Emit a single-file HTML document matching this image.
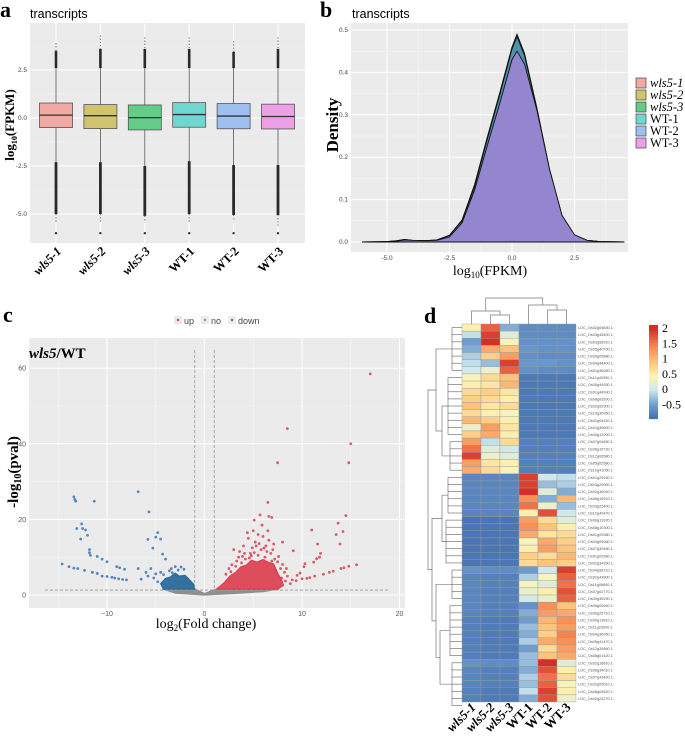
<!DOCTYPE html>
<html><head><meta charset="utf-8"><style>
body{margin:0;background:#fff}
svg{display:block}
text{font-family:"Liberation Sans",sans-serif}
.serif{font-family:"Liberation Serif",serif}
</style></head><body>
<svg id="fig" width="685" height="736" viewBox="0 0 685 736" xmlns="http://www.w3.org/2000/svg"></svg>
<script>
// ---------- DATA ----------
// panel a: boxplots
const boxSamples=["wls5-1","wls5-2","wls5-3","WT-1","WT-2","WT-3"];
const boxMedian=[0.15,0.12,0.02,0.18,0.1,0.08];
const boxQ1=[-0.5,-0.55,-0.62,-0.48,-0.56,-0.57];
const boxQ3=[0.78,0.7,0.68,0.8,0.75,0.72];
const boxWhiskerHigh=[2.6,2.6,2.6,2.6,2.6,2.6];
const boxWhiskerLow=[-2.3,-2.3,-2.5,-2.25,-2.45,-2.45];
const boxDenseHigh=[3.5,3.6,3.6,3.6,3.45,3.6];
const boxMaxOutlier=[3.9,4.3,4.2,4.2,4.0,4.2];
const boxDenseLow=[-5.0,-5.0,-5.1,-5.0,-5.05,-5.05];
const boxSparseLow=[-5.5,-5.5,-5.45,-5.4,-5.4,-5.6];
const boxMinOutlier=[-6.0,-6.0,-6.0,-6.0,-6.0,-6.0];
const boxColors=["#f2a9a3","#d2c46e","#63cc86","#6ed8d0","#9fbff0","#eea0e6"];
const boxYTicks=[2.5,0,-2.5,-5];
const boxYTickLabels=["2.5","0.0","-2.5","-5.0"];
// panel b: density
const densX=[-6,-5,-4.6,-4.3,-4,-3.5,-3,-2.5,-2,-1.5,-1,-0.5,0,0.2,0.5,1,1.5,2,2.5,3,3.5,4.5];
const densGreen=[0,0.001,0.003,0.006,0.004,0.003,0.005,0.016,0.052,0.135,0.245,0.35,0.46,0.49,0.445,0.315,0.172,0.062,0.016,0.004,0.001,0];
const densBlue=[0,0.001,0.003,0.006,0.004,0.003,0.005,0.015,0.05,0.13,0.24,0.345,0.455,0.485,0.44,0.312,0.17,0.061,0.016,0.004,0.001,0];
const densPurple=[0,0.001,0.002,0.005,0.004,0.003,0.004,0.012,0.045,0.122,0.225,0.325,0.43,0.45,0.42,0.31,0.172,0.063,0.017,0.004,0.001,0];
const densXTicks=[-5,-2.5,0,2.5];
const densXTickLabels=["-5.0","-2.5","0.0","2.5"];
const densYTicks=[0,0.1,0.2,0.3,0.4,0.5];
const densYTickLabels=["0.0","0.1","0.2","0.3","0.4","0.5"];
const legendLabels=["wls5-1","wls5-2","wls5-3","WT-1","WT-2","WT-3"];
// panel c: volcano
const upPoints=[[17,58.5],[8.5,44],[15,40],[7.5,35],[14.8,35],[6.5,24.5],[14.5,21],[5.7,21.2],[6.6,20.8],[6.9,20.5],[5.1,19.8],[13.7,19],[11,17.2],[14.2,16.8],[13.5,16],[8,14],[13.9,13.5],[11.6,13.5],[9.1,11.7],[11.9,11],[11.8,10],[11.5,9.6],[11.2,8.7],[10.3,8.3],[10.2,7.5],[9.8,5.8],[9.5,5.2],[10,4.3],[10.5,4.4],[9.4,3.8],[10.8,4.6],[11.3,5],[12.2,5.5],[12.8,6],[13.2,6.3],[14,7],[14.3,7.2],[14.8,7.6],[15.6,8],[9,4],[8.3,3.7],[3,12],[4,13],[4.5,15],[5,17],[5.5,16],[6,15.5],[6.3,13],[5.8,12],[4.7,11],[3.5,10],[6.8,11],[7.2,9.5],[7.8,7],[8.2,6],[5.2,14],[4.2,9.5],[6.5,17],[5.9,18.5],[4.9,12.5],[3.8,8.5],[2.5,7],[5.5,10.5],[6.2,10],[7,12],[7.5,8.8],[4.4,16.5],[3.3,9],[2.8,8],[7.9,4.5],[8.5,5],[6.6,14.5],[5.3,13],[4.1,11],[7.3,6.5],[3.6,11.5],[6.9,9],[8.8,3],[2.2,5.5],[3.2,7.6],[4.6,9.8],[5.1,11.2],[6.4,11.5],[7.6,10.2],[8,8.1],[8.4,7],[7.1,13.5],[4.8,10.4],[3.9,10.2],[2.7,6.2],[6.1,12.4],[5.6,13.6]];
const upCore=[[1.2,1.5],[2,3.2],[2.6,5],[3.2,6],[3.7,7.4],[4.3,7.9],[4.8,9.2],[5.4,8.7],[6,9.4],[6.6,8.6],[7.1,8.2],[7.5,5.8],[7.9,4],[8.1,2.6],[7.5,1.5]];
const downPoints=[[-13.4,26],[-13.3,25.3],[-13.2,24.8],[-11.3,24.8],[-6.8,27.3],[-5.7,22],[-12.6,18.8],[-12.5,17.6],[-13.1,17.6],[-12.2,17.2],[-12,15.8],[-12.7,14.8],[-4.8,16.5],[-5,15.3],[-4.5,14.8],[-5.8,14.7],[-5.3,12.4],[-11.8,12],[-11.8,11.2],[-11.7,10.5],[-11,10.2],[-10.5,9.5],[-10,8.8],[-9,7.5],[-8.7,7.2],[-8.2,6.8],[-14.6,8.2],[-13.9,7.5],[-13.4,7.1],[-13,7],[-12.3,6.5],[-11.5,6],[-11,5.7],[-10.5,5],[-10,4.9],[-9.5,4.7],[-9.2,4.5],[-8.8,4.3],[-8.4,4.1],[-8,4],[-4.3,10.8],[-4,9.5],[-6.8,7],[-6,6],[-5.5,7],[-4.5,6],[-3,7.5],[-2.4,7.4],[-3.4,7],[-2.1,6.8],[-5.8,5],[-6.5,4.2],[-5.2,4.5],[-4.8,3.5],[-3.9,3.2],[-3.6,6.4],[-2.7,6.6],[-4.2,5.4],[-5,5.6],[-3.3,5.9]];
const downCore=[[-1,1.5],[-1.1,2.8],[-1.6,4.2],[-2,5.2],[-2.6,5],[-3,5.8],[-3.5,4.8],[-4,4.4],[-4.5,3],[-4.2,1.5]];
const noCore=[[-4.3,1.6],[-1,1.6],[0,0.4],[1.2,1.6],[7.6,1.6],[6,0.9],[3,0.4],[0,0],[-3,0.5]];
const volcXTicks=[-10,0,10,20];
const volcXTickLabels=["\u221210","0","10","20"];
const volcYTicks=[0,20,40,60];
const volcYTickLabels=["0","20","40","60"];
// panel d: heatmap
const heatCols=["wls5-1","wls5-2","wls5-3","WT-1","WT-2","WT-3"];
const heatRows=[
[0.6,1.7,-0.2,-0.45,-0.45,-0.45],[0.1,1.9,0.3,-0.45,-0.45,-0.45],[-0.3,2.0,0.5,-0.4,-0.4,-0.4],[-0.2,1.2,1.0,-0.35,-0.4,-0.4],[0.0,0.9,1.3,-0.4,-0.45,-0.45],[0.1,-0.1,1.9,-0.35,-0.35,-0.4],[0.2,0.4,1.7,-0.4,-0.45,-0.45],
[0.5,0.8,1.0,-0.62,-0.62,-0.62],[0.6,0.7,1.1,-0.62,-0.62,-0.62],[0.8,0.9,0.7,-0.62,-0.62,-0.62],[0.9,0.8,0.6,-0.62,-0.62,-0.62],[1.0,0.7,0.8,-0.62,-0.62,-0.62],[0.8,0.6,0.5,-0.62,-0.62,-0.62],[1.1,0.9,0.6,-0.62,-0.62,-0.62],[0.4,1.3,0.7,-0.62,-0.62,-0.62],[0.9,1.2,0.6,-0.62,-0.62,-0.62],[1.3,0.1,0.8,-0.55,-0.55,-0.55],[1.6,0.3,0.2,-0.55,-0.55,-0.55],[1.9,0.4,0.3,-0.55,-0.55,-0.55],[1.3,0.7,0.6,-0.55,-0.55,-0.55],[1.2,0.8,0.5,-0.55,-0.55,-0.55],
[-0.5,-0.5,-0.5,1.9,0.2,0.1],[-0.5,-0.5,-0.5,1.9,-0.1,0.0],[-0.5,-0.5,-0.5,2.0,0.3,-0.2],[-0.5,-0.5,-0.5,1.4,-0.2,1.1],[-0.5,-0.5,-0.5,1.6,0.4,-0.1],[-0.5,-0.5,-0.5,0.6,1.8,0.2],[-0.65,-0.65,-0.65,1.3,0.8,0.3],[-0.65,-0.65,-0.65,1.4,1.0,0.6],[-0.65,-0.65,-0.65,1.2,0.7,0.8],[-0.65,-0.65,-0.65,0.5,1.2,0.9],[-0.65,-0.65,-0.65,0.6,1.3,1.0],[-0.65,-0.65,-0.65,0.9,0.8,1.1],[-0.65,-0.65,-0.65,0.8,1.0,0.9],
[-0.4,-0.45,-0.45,-0.3,0.2,1.9],[-0.5,-0.55,-0.55,0.0,0.5,1.7],[-0.5,-0.55,-0.55,0.5,0.3,1.6],[-0.5,-0.55,-0.55,0.4,0.6,1.8],[-0.5,-0.55,-0.55,0.2,0.4,1.7],
[-0.5,-0.55,-0.55,-0.4,1.4,1.0],[-0.5,-0.55,-0.55,-0.2,1.3,1.2],[-0.55,-0.6,-0.6,-0.3,1.1,1.4],[-0.55,-0.6,-0.6,-0.1,1.0,1.3],[-0.55,-0.6,-0.6,-0.2,0.9,1.5],[-0.55,-0.6,-0.6,0.0,1.2,1.4],[-0.55,-0.6,-0.6,-0.3,0.8,1.3],[-0.55,-0.6,-0.6,-0.1,1.0,1.2],
[-0.4,-0.45,-0.45,-0.1,2.0,0.3],[-0.5,-0.55,-0.55,-0.2,1.8,0.6],[-0.5,-0.55,-0.55,0.0,1.6,0.8],[-0.5,-0.55,-0.55,-0.1,1.7,0.5],[-0.55,-0.6,-0.6,0.1,1.9,0.6],[-0.55,-0.6,-0.6,-0.2,1.8,0.4]];
const heatRowLabels=["LOC_Os02g05830.1","LOC_Os03g45400.1","LOC_Os03g58910.1","LOC_Os05g40700.1","LOC_Os06g05880.1","LOC_Os04g44400.1","LOC_Os01g35050.1","LOC_Os11g40390.1","LOC_Os05g44930.1","LOC_Os01g44930.1","LOC_Os08g03200.1","LOC_Os02g52900.1","LOC_Os10g30950.1","LOC_Os02g04420.1","LOC_Os01g35600.1","LOC_Os03g12200.1","LOC_Os07g04650.1","LOC_Os06g15720.1","LOC_Os12g06580.1","LOC_Os05g02580.1","LOC_Os10g41050.1","LOC_Os01g29150.1","LOC_Os03g20000.1","LOC_Os02g16040.1","LOC_Os05g15910.1","LOC_Os03g22400.1","LOC_Os12g40470.1","LOC_Os06g13920.1","LOC_Os08g10300.1","LOC_Os01g09380.1","LOC_Os03g05060.1","LOC_Os07g30480.1","LOC_Os01g02580.1","LOC_Os02g34350.1","LOC_Os04g58710.1","LOC_Os02g43900.1","LOC_Os11g06840.1","LOC_Os07g02770.1","LOC_Os09g35290.1","LOC_Os05g05940.1","LOC_Os06g25710.1","LOC_Os09g13810.1","LOC_Os11g23000.1","LOC_Os04g36950.1","LOC_Os05g41470.1","LOC_Os12g39860.1","LOC_Os08g01420.1","LOC_Os02g16810.1","LOC_Os06g34010.1","LOC_Os07g43400.1","LOC_Os02g05010.1","LOC_Os08g04520.1","LOC_Os02g24270.1","LOC_Os01g07890.1"];
const colorbarTicks=[2,1.5,1,0.5,0,-0.5];

// ---------- HELPERS ----------
const NS="http://www.w3.org/2000/svg";
const svg=document.getElementById('fig');
function el(tag,attrs,parent,txt){const e=document.createElementNS(NS,tag);for(const k in attrs)e.setAttribute(k,attrs[k]);if(txt!==undefined)e.textContent=txt;(parent||svg).appendChild(e);return e;}
function grp(name){const g=el('g',{});return g;}

// ---------- PANEL A ----------
(function(){
const g=grp('panel-a-boxplot');
const yA=v=>118-19.2*v, xA=i=>56+44.4*i;
let t=el('text',{x:0,y:17,'font-size':22,'font-weight':'bold',class:'serif'},g,'a');

t=el('text',{x:30,y:18,'font-size':12.5},g,'transcripts');

const bg=el('rect',{x:30,y:23,width:275,height:220,fill:'#ebebeb'},g);

[3.75,1.25,-1.25,-3.75].forEach(v=>el('line',{x1:30,x2:305,y1:yA(v),y2:yA(v),stroke:'#f4f4f4','stroke-width':0.6},g));
boxYTicks.forEach((v,i)=>{el('line',{x1:30,x2:305,y1:yA(v),y2:yA(v),stroke:'#fff','stroke-width':1},g);
 const l=el('text',{x:27,y:yA(v)+2,'font-size':6.5,fill:'#444','text-anchor':'end'},g,boxYTickLabels[i]);
 });
boxSamples.forEach((s,i)=>{const x=xA(i);el('line',{x1:x,x2:x,y1:23,y2:243,stroke:'#fff','stroke-width':1},g);});
boxSamples.forEach((s,i)=>{
 const x=xA(i);const bgp=el('g',{},g);
 
 el('line',{x1:x,x2:x,y1:yA(boxWhiskerHigh[i]),y2:yA(boxQ3[i]),stroke:'#555','stroke-width':0.8},bgp);
 el('line',{x1:x,x2:x,y1:yA(boxQ1[i]),y2:yA(boxWhiskerLow[i]),stroke:'#555','stroke-width':0.8},bgp);
 el('line',{x1:x,x2:x,y1:yA(boxDenseHigh[i]),y2:yA(boxWhiskerHigh[i]),stroke:'#2b2b2b','stroke-width':2.6},bgp);
 el('line',{x1:x,x2:x,y1:yA(boxMaxOutlier[i]),y2:yA(boxDenseHigh[i]),stroke:'#777','stroke-width':1.2,'stroke-dasharray':'1.2 2'},bgp);
 el('line',{x1:x,x2:x,y1:yA(boxWhiskerLow[i]),y2:yA(boxDenseLow[i]),stroke:'#2b2b2b','stroke-width':2.8},bgp);
 el('line',{x1:x,x2:x,y1:yA(boxDenseLow[i]),y2:yA(boxSparseLow[i]),stroke:'#777','stroke-width':1.2,'stroke-dasharray':'1.2 2'},bgp);
 el('circle',{cx:x,cy:yA(boxMinOutlier[i]),r:1.2,fill:'#333'},bgp);
 el('rect',{x:x-16.5,y:yA(boxQ3[i]),width:33,height:yA(boxQ1[i])-yA(boxQ3[i]),fill:boxColors[i],stroke:'#555','stroke-width':0.8},bgp);
 el('line',{x1:x-16.5,x2:x+16.5,y1:yA(boxMedian[i]),y2:yA(boxMedian[i]),stroke:'#333','stroke-width':1.3},bgp);
 const lab=el('text',{x:x+6,y:252,'font-size':12.5,'font-weight':'bold','font-style':s.startsWith('wls')?'italic':'normal',class:'serif','text-anchor':'end',transform:`rotate(-45 ${x+6} 252)`},g,s);
 
});
t=el('text',{x:0,y:0,'font-size':13,'font-weight':'bold',class:'serif','text-anchor':'middle',transform:'translate(14 125) rotate(-90)'},g);
t.innerHTML='log<tspan font-size="8" dy="3">10</tspan><tspan dy="-3">(FPKM)</tspan>';

})();

// ---------- PANEL B ----------
(function(){
const g=grp('panel-b-density');
const xB=v=>512+25*v, yB=v=>242-424*v;
let t=el('text',{x:320,y:17,'font-size':22,'font-weight':'bold',class:'serif'},g,'b');

t=el('text',{x:352,y:18,'font-size':12.5},g,'transcripts');

const bg=el('rect',{x:351,y:23,width:277,height:229,fill:'#ebebeb'},g);

[0.05,0.15,0.25,0.35,0.45].forEach(v=>el('line',{x1:351,x2:628,y1:yB(v),y2:yB(v),stroke:'#f4f4f4','stroke-width':0.6},g));
[-3.75,-1.25,1.25,3.75].forEach(v=>el('line',{x1:xB(v),x2:xB(v),y1:23,y2:252,stroke:'#f4f4f4','stroke-width':0.6},g));
densYTicks.forEach((v,i)=>{el('line',{x1:351,x2:628,y1:yB(v),y2:yB(v),stroke:'#fff','stroke-width':1},g);
 const l=el('text',{x:348,y:yB(v)+2,'font-size':6.5,fill:'#444','text-anchor':'end'},g,densYTickLabels[i]);
 });
densXTicks.forEach((v,i)=>{el('line',{x1:xB(v),x2:xB(v),y1:23,y2:252,stroke:'#fff','stroke-width':1},g);
 const l=el('text',{x:xB(v),y:260,'font-size':6.5,fill:'#444','text-anchor':'middle'},g,densXTickLabels[i]);
 });
function area(vals,fill,name){
 let d='M'+xB(densX[0])+','+yB(0);
 densX.forEach((x,i)=>d+=' L'+xB(x).toFixed(1)+','+yB(vals[i]).toFixed(1));
 d+=' L'+xB(densX[densX.length-1])+','+yB(0)+'Z';
 const p=el('path',{d,fill,stroke:'#111','stroke-width':0.9,'fill-opacity':0.9},g);
 }
area(densGreen,'#3f9f6a','density-wls5-3');
area(densBlue,'#4f8fb0','density-wt-2');
area(densPurple,'#9a84d2','density-wt-3');
t=el('text',{x:0,y:0,'font-size':17,'font-weight':'bold',class:'serif','text-anchor':'middle',transform:'translate(338 125) rotate(-90)'},g,'Density');

t=el('text',{x:490,y:275,'font-size':14,class:'serif','text-anchor':'middle'},g);
t.innerHTML='log<tspan font-size="9" dy="3">10</tspan><tspan dy="-3">(FPKM)</tspan>';

legendLabels.forEach((s,i)=>{const lg=el('g',{},g);
 
 const y=78+12*i;
 el('rect',{x:636,y:y,width:10,height:10,fill:boxColors[i],stroke:'#444','stroke-width':0.7},lg);
 el('text',{x:650,y:y+9,'font-size':12.5,class:'serif','font-style':s.startsWith('wls')?'italic':'normal'},lg,s);});
})();

// ---------- PANEL C ----------
(function(){
const g=grp('panel-c-volcano');
const xC=v=>204.5+9.75*v, yC=v=>595-3.78*v;
let t=el('text',{x:3,y:322,'font-size':22,'font-weight':'bold',class:'serif'},g,'c');

const bg=el('rect',{x:29,y:338,width:376,height:270,fill:'#ebebeb'},g);

[10,30,50].forEach(v=>el('line',{x1:29,x2:405,y1:yC(v),y2:yC(v),stroke:'#f4f4f4','stroke-width':0.6},g));
[-15,-5,5,15].forEach(v=>el('line',{x1:xC(v),x2:xC(v),y1:338,y2:608,stroke:'#f6f6f6','stroke-width':0.8},g));
volcYTicks.forEach((v,i)=>{el('line',{x1:29,x2:405,y1:yC(v),y2:yC(v),stroke:'#fff','stroke-width':1},g);
 const l=el('text',{x:26,y:yC(v)+2.5,'font-size':7,fill:'#555','text-anchor':'end'},g,volcYTickLabels[i]);
 });
volcXTicks.forEach((v,i)=>{el('line',{x1:xC(v),x2:xC(v),y1:338,y2:608,stroke:'#fff','stroke-width':1},g);
 const l=el('text',{x:xC(v),y:616,'font-size':7,fill:'#555','text-anchor':'middle'},g,volcXTickLabels[i]);
 });
function poly(pts,fill,name,op){const p=el('polygon',{points:pts.map(p=>xC(p[0]).toFixed(1)+','+yC(p[1]).toFixed(1)).join(' '),fill,'fill-opacity':op,stroke:fill,'stroke-opacity':op,'stroke-width':1.2,'stroke-linejoin':'round'},g);
 }
poly(noCore,'#8f8f8f','no-change-cloud',1);
poly(upCore,'#dc3c4c','up-dense-cloud',0.9);
poly(downCore,'#2b6a9a','down-dense-cloud',0.95);
upPoints.forEach(p=>{const c=el('circle',{cx:xC(p[0]),cy:yC(p[1]),r:1.4,fill:'#de3d4e','fill-opacity':0.85},g);
 });
downPoints.forEach(p=>{const c=el('circle',{cx:xC(p[0]),cy:yC(p[1]),r:1.4,fill:'#3a76b6','fill-opacity':0.85},g);
 });
[-1,1].forEach(v=>{const l=el('line',{x1:xC(v),x2:xC(v),y1:350,y2:595,stroke:'#999','stroke-width':0.8,'stroke-dasharray':'3 2'},g);
 });
const hl=el('line',{x1:45,x2:388,y1:yC(1.3),y2:yC(1.3),stroke:'#999','stroke-width':0.8,'stroke-dasharray':'3 2'},g);

t=el('text',{x:29,y:358,'font-size':15,'font-weight':'bold',class:'serif'},g);
t.innerHTML='<tspan font-style="italic">wls5</tspan>/WT';

t=el('text',{x:0,y:0,'font-size':15,'font-weight':'bold',class:'serif','text-anchor':'middle',transform:'translate(18 472) rotate(-90)'},g);
t.innerHTML='-log<tspan font-size="10" dy="3">10</tspan><tspan dy="-3">(pval)</tspan>';

t=el('text',{x:206,y:628,'font-size':14,class:'serif','text-anchor':'middle'},g);
t.innerHTML='log<tspan font-size="9" dy="3">2</tspan><tspan dy="-3">(Fold change)</tspan>';

[['up','#de3d4e',174],['no','#8f8f8f',201],['down','#3a76b6',228]].forEach(e=>{const lg=el('g',{},g);
 
 el('rect',{x:e[2],y:316,width:8,height:8,fill:'#ebebeb'},lg);
 el('circle',{cx:e[2]+4,cy:320,r:1.2,fill:e[1]},lg);
 el('text',{x:e[2]+10,y:324,'font-size':9,fill:'#444'},lg,e[0]);});
})();

// ---------- PANEL D ----------
(function(){
const g=grp('panel-d-heatmap');
let t=el('text',{x:424,y:323,'font-size':22,'font-weight':'bold',class:'serif'},g,'d');

const x0=462,cw=19,y0=324,rh=378/heatRows.length;
const stops=[[-0.7,[69,112,176]],[-0.3,[110,156,205]],[0.15,[205,231,240]],[0.55,[253,245,180]],[1.0,[253,196,125]],[1.5,[244,132,82]],[2.0,[214,46,38]]];
function col(v){if(v<=stops[0][0])return 'rgb('+stops[0][1]+')';
 for(let i=1;i<stops.length;i++){if(v<=stops[i][0]){const a=stops[i-1],b=stops[i],f=(v-a[0])/(b[0]-a[0]);
  return 'rgb('+a[1].map((c,k)=>Math.round(c+(b[1][k]-c)*f)).join(',')+')';}}
 return 'rgb('+stops[stops.length-1][1]+')';}
heatRows.forEach((row,r)=>{row.forEach((v,c)=>{const cell=el('rect',{x:x0+c*cw,y:y0+r*rh,width:cw,height:rh,fill:col(v),stroke:'#9a9a9a','stroke-width':0.4},g);
 });
 const lb=el('text',{x:578,y:y0+r*rh+rh/2+1.5,'font-size':3.8,fill:'#555'},g,heatRowLabels[r]);
 });
heatCols.forEach((s,c)=>{const x=x0+c*cw+cw/2+5;
 const lab=el('text',{x:x,y:708,'font-size':13,'font-weight':'bold','font-style':s.startsWith('wls')?'italic':'normal',class:'serif','text-anchor':'end',transform:`rotate(-45 ${x} 708)`},g,s);
 });
const cb=el('g',{},g);
for(let i=0;i<47;i++){const v=2.1-i*(2.85/47);el('rect',{x:649,y:325+i*2,width:9,height:2.1,fill:col(v)},cb);}
const cbY=v=>328+(2-v)*30.5;
colorbarTicks.forEach(v=>{const l=el('text',{x:662,y:cbY(v)+4,'font-size':12,class:'serif'},cb,String(v));
 });
const dg=el('g',{stroke:'#777','stroke-width':0.7,fill:'none'},g);

const rc=r=>y0+r*rh+rh/2;
function br(xj,ya,yb,xa,xb){el('path',{d:`M${xa},${ya} H${xj} V${yb} H${xb}`},dg);}
const groups=[[0,6,452],[7,15,448],[16,20,450],[21,26,448],[27,33,446],[34,38,452],[39,46,450],[47,53,452]];
groups.forEach(gp=>{for(let r=gp[0];r<=gp[1];r++)el('line',{x1:gp[2],x2:x0,y1:rc(r),y2:rc(r)},dg);
 el('line',{x1:gp[2],x2:gp[2],y1:rc(gp[0]),y2:rc(gp[1])},dg);});
const gc=gp=>(rc(gp[0])+rc(gp[1]))/2;
br(442,gc(groups[1]),gc(groups[2]),448,450);
const cA=(gc(groups[1])+gc(groups[2]))/2;
br(436,gc(groups[0]),cA,452,442);
const cTop=(gc(groups[0])+cA)/2;
br(442,gc(groups[3]),gc(groups[4]),448,446);
const cB1=(gc(groups[3])+gc(groups[4]))/2;
br(440,gc(groups[6]),gc(groups[7]),450,452);
const cB3=(gc(groups[6])+gc(groups[7]))/2;
br(436,gc(groups[5]),cB3,452,440);
const cB2=(gc(groups[5])+cB3)/2;
br(432,cB1,cB2,442,436);
const cBot=(cB1+cB2)/2;
br(428,cTop,cBot,436,432);
const tg=el('g',{stroke:'#777','stroke-width':0.7,fill:'none'},g);

const cx=c=>x0+c*cw+cw/2;
function tb(yj,xa,xb,ya,yb){el('path',{d:`M${xa},${ya} V${yj} H${xb} V${yb}`},tg);}
tb(315,cx(1),cx(2),324,324);
tb(311,cx(0),(cx(1)+cx(2))/2,324,315);
tb(310,cx(4),cx(5),324,324);
tb(305,cx(3),(cx(4)+cx(5))/2,324,310);
tb(298,(cx(0)+cx(1.5))/2,(cx(3)+cx(4.5))/2,311,305);
})();
</script>
</body></html>
